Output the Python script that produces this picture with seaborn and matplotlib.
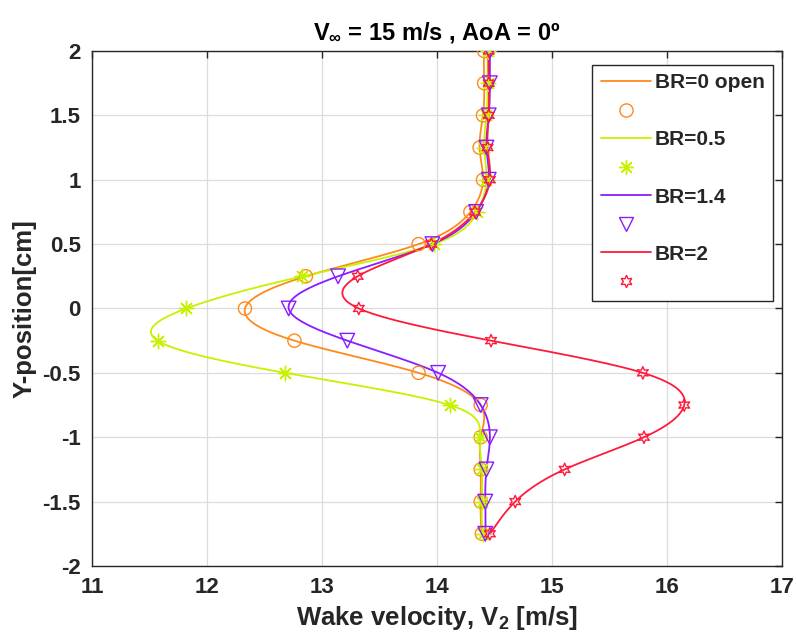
import numpy as np
import pandas as pd
import matplotlib
matplotlib.use("Agg")
import matplotlib.pyplot as plt
from matplotlib.lines import Line2D
import seaborn as sns

# ---- data ----
y_pos = [-1.75, -1.5, -1.25, -1.0, -0.75, -0.5, -0.25, 0.0, 0.25, 0.5, 0.75, 1.0, 1.25, 1.5, 1.75, 2.0]
v_br0 = [14.39, 14.38, 14.38, 14.38, 14.38, 13.84, 12.76, 12.33, 12.86, 13.84, 14.29, 14.40, 14.37, 14.40, 14.41, 14.41]
v_br05 = [14.40, 14.39, 14.39, 14.37, 14.11, 12.68, 11.57, 11.82, 12.83, 13.97, 14.35, 14.43, 14.41, 14.43, 14.44, 14.44]
v_br14 = [14.42, 14.42, 14.43, 14.46, 14.38, 14.01, 13.22, 12.71, 13.14, 13.96, 14.34, 14.45, 14.43, 14.45, 14.46, 14.46]
v_br2 = [14.46, 14.68, 15.11, 15.80, 16.15, 15.79, 14.47, 13.32, 13.31, 13.95, 14.33, 14.46, 14.44, 14.45, 14.45, 14.45]
labels = ["BR=0 open", "BR=0.5", "BR=1.4", "BR=2"]
title = "V$_{\\infty}$ = 15 m/s , AoA = 0º"
xlabel = "Wake velocity, V$_{2}$ [m/s]"
ylabel = "Y-position[cm]"

series = [v_br0, v_br05, v_br14, v_br2]
colors = ["#FF8A1C", "#C6F200", "#8A1CFF", "#FF1A3C"]
markers = ["o", (8, 2, 0), "v", (6, 1, 0)]
msizes = [90, 110, 110, 80]


def spline_notaknot(t, v, tt):
    t = np.asarray(t, float); v = np.asarray(v, float)
    n = len(t); h = t[1] - t[0]
    A = np.zeros((n, n)); b = np.zeros(n)
    A[0, 0:3] = [1, -2, 1]
    A[-1, -3:] = [1, -2, 1]
    for i in range(1, n - 1):
        A[i, i - 1:i + 2] = [1, 4, 1]
        b[i] = 6 * (v[i + 1] - 2 * v[i] + v[i - 1]) / h ** 2
    M = np.linalg.solve(A, b)
    idx = np.clip(np.searchsorted(t, tt) - 1, 0, n - 2)
    t0 = t[idx]; t1 = t[idx + 1]
    s = (M[idx] * (t1 - tt) ** 3 / (6 * h) + M[idx + 1] * (tt - t0) ** 3 / (6 * h)
         + (v[idx] / h - M[idx] * h / 6) * (t1 - tt)
         + (v[idx + 1] / h - M[idx + 1] * h / 6) * (tt - t0))
    return s


sns.set_style("white")
plt.rcParams['font.family'] = ['Liberation Sans', 'DejaVu Sans']
plt.rcParams['font.weight'] = 'bold'
plt.rcParams['mathtext.fontset'] = 'custom'
plt.rcParams['mathtext.rm'] = 'Liberation Sans:bold'
plt.rcParams['mathtext.it'] = 'Liberation Sans:bold'
plt.rcParams['mathtext.bf'] = 'Liberation Sans:bold'

fig = plt.figure(figsize=(7.96, 6.43), dpi=100)
ax = fig.add_axes([0.1156, 0.1198, 0.8668, 0.8009])

yy = np.linspace(y_pos[0], y_pos[-1], 600)
handles = []
hlabels = []
for vals, c, m, ms, lab in zip(series, colors, markers, msizes, labels):
    xx = spline_notaknot(y_pos, vals, yy)
    sns.lineplot(x=xx, y=yy, sort=False, estimator=None, color=c, lw=1.3, ax=ax, zorder=3)
    if isinstance(m, tuple) and m[1] == 2:
        ax.scatter(vals, y_pos, marker=m, s=ms, color=c, linewidths=1.0, zorder=4)
    else:
        ax.scatter(vals, y_pos, marker=m, s=ms, facecolors='none', edgecolors=c, linewidths=1.0, zorder=4)
    handles.append(Line2D([], [], color=c, lw=1.3))
    hlabels.append(lab)
    handles.append(Line2D([], [], ls='none', marker=m, markersize=ms ** 0.5, markerfacecolor='none',
                          markeredgecolor=c, markeredgewidth=1.0, color=c))
    hlabels.append('')

ax.set_xlim(11, 17)
ax.set_ylim(-2, 2)
ax.set_xticks(range(11, 18))
ax.set_yticks([-2, -1.5, -1, -0.5, 0, 0.5, 1, 1.5, 2])
ax.set_yticklabels(['-2', '-1.5', '-1', '-0.5', '0', '0.5', '1', '1.5', '2'])
ax.grid(True, color='#DCDCDC', lw=0.9)
ax.set_axisbelow(True)
for sp in ax.spines.values():
    sp.set_color('#262626')
    sp.set_linewidth(1.0)
ax.tick_params(direction='in', top=True, right=True, length=5, width=1.0, colors='#262626',
               labelsize=16, pad=8)
for lbl in ax.get_xticklabels() + ax.get_yticklabels():
    lbl.set_fontweight('bold')

ax.set_title(title, fontsize=17, fontweight='bold', color='black', pad=8)
ax.set_xlabel(xlabel, fontsize=18.5, fontweight='bold', color='#262626', labelpad=4)
ax.set_ylabel(ylabel, fontsize=18.5, fontweight='bold', color='#262626', labelpad=4)

leg = ax.legend(handles, hlabels, loc='upper right', bbox_to_anchor=(0.987, 0.973),
                borderaxespad=0.0,
                fancybox=False, framealpha=1, edgecolor='#262626', handlelength=2.4,
                prop={'weight': 'bold', 'size': 15}, labelspacing=0.46, borderpad=0.4,
                handletextpad=0.2)
leg.get_frame().set_linewidth(1.0)

fig.savefig("out.png", dpi=100)
